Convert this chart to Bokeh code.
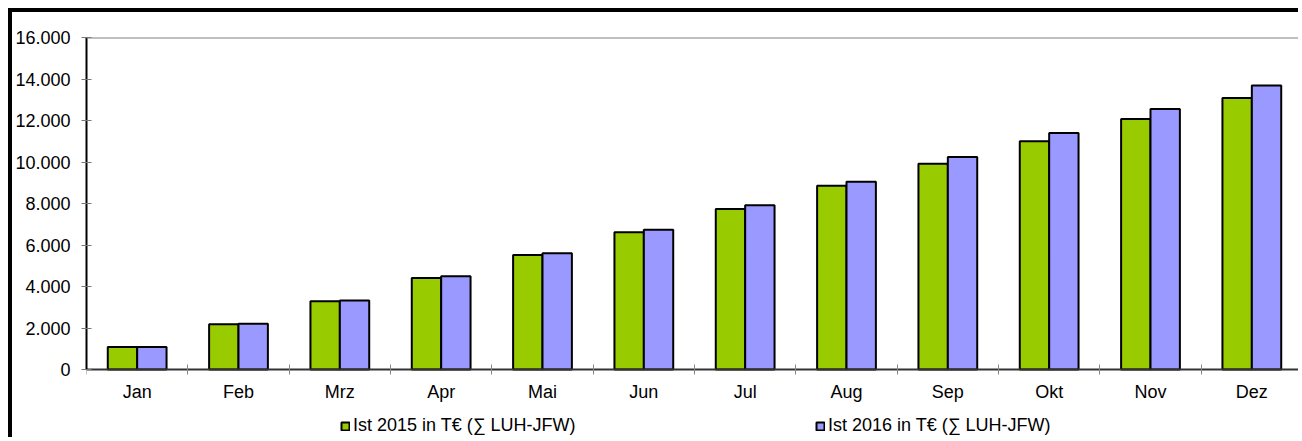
from bokeh.plotting import figure
from bokeh.models import (ColumnDataSource, Range1d, FixedTicker, Span, Legend, LegendItem)
from bokeh.embed import file_html
from bokeh.resources import INLINE

months = ["Jan", "Feb", "Mrz", "Apr", "Mai", "Jun", "Jul", "Aug", "Sep", "Okt", "Nov", "Dez"]
ist_2015 = [1090, 2180, 3290, 4410, 5520, 6620, 7740, 8850, 9910, 11000, 12070, 13080]
ist_2016 = [1090, 2200, 3330, 4490, 5600, 6740, 7910, 9050, 10240, 11400, 12550, 13690]
series_names = ["Ist 2015 in T\u20ac (\u2211 LUH-JFW)", "Ist 2016 in T\u20ac (\u2211 LUH-JFW)"]
y_ticks = [0, 2000, 4000, 6000, 8000, 10000, 12000, 14000, 16000]
y_tick_labels = ["0", "2.000", "4.000", "6.000", "8.000", "10.000", "12.000", "14.000", "16.000"]

FONT = "Liberation Sans"
GREEN = "#99CC00"
BLUE = "#9999FF"
BAR_W = 0.29

# layout (pixels): canvas 429 tall, plot top at 25, zero line 332 px lower
CANVAS_H = 429
TOP = 25
AXIS_PX = 332
y_max = y_ticks[-1]
frame_px = CANVAS_H - TOP
y_min = y_max - frame_px / AXIS_PX * y_max

n = len(months)
centers = [i + 0.5 for i in range(n)]
src = ColumnDataSource(dict(
    x15=[c - BAR_W / 2 for c in centers],
    x16=[c + BAR_W / 2 for c in centers],
    v15=ist_2015,
    v16=ist_2016,
))

p = figure(width=1290, height=CANVAS_H, output_backend="svg", toolbar_location=None,
           x_range=Range1d(0, n), y_range=Range1d(y_min, y_max),
           min_border_left=70, min_border_right=0, min_border_top=TOP, min_border_bottom=0)
p.styles = {"margin-left": "8px", "margin-top": "8px",
            "border-top": "4px solid black", "border-left": "4px solid black"}
p.outline_line_color = None
p.xgrid.grid_line_color = None
p.ygrid.grid_line_color = None
p.background_fill_color = "white"
p.border_fill_color = "white"

r15 = p.vbar(x="x15", top="v15", bottom=0, width=BAR_W, source=src, fill_color=GREEN,
             line_color="black", line_width=2)
r16 = p.vbar(x="x16", top="v16", bottom=0, width=BAR_W, source=src, fill_color=BLUE,
             line_color="black", line_width=2)

p.add_layout(Span(location=y_max, dimension="width", line_color="#808080", line_width=2))

# y axis
ya = p.yaxis[0]
ya.ticker = FixedTicker(ticks=y_ticks)
ya.bounds = (0, y_max)
ya.major_label_overrides = {t: l for t, l in zip(y_ticks, y_tick_labels)}
ya.major_label_text_font = FONT
ya.major_label_text_font_size = "18px"
ya.major_label_text_color = "black"
ya.axis_line_color = "black"
ya.axis_line_width = 2
ya.major_tick_in = 5
ya.major_tick_out = 5
ya.major_tick_line_color = "#777777"
ya.minor_tick_line_color = None
ya.major_label_standoff = 11

# x axis, drawn at value 0
xa = p.xaxis[0]
xa.fixed_location = 0
xa.ticker = FixedTicker(ticks=centers, minor_ticks=list(range(n + 1)))
xa.major_label_overrides = {c: m for c, m in zip(centers, months)}
xa.major_label_text_font = FONT
xa.major_label_text_font_size = "18px"
xa.major_label_text_color = "black"
xa.axis_line_color = "#333333"
xa.axis_line_width = 2
xa.major_tick_in = 0
xa.major_tick_out = 0
xa.minor_tick_in = 5
xa.minor_tick_out = 5
xa.minor_tick_line_color = "#888888"
xa.major_label_standoff = 7

legend = Legend(items=[LegendItem(label=series_names[0], renderers=[r15]),
                       LegendItem(label=series_names[1], renderers=[r16])],
                location=(254, 5), orientation="horizontal")
legend.padding = 0
legend.margin = 0
legend.spacing = 2
legend.border_line_color = None
legend.background_fill_alpha = 0
legend.glyph_width = 10
legend.glyph_height = 10
legend.label_standoff = 3
legend.label_width = 460
legend.label_text_font = FONT
legend.label_text_font_size = "18px"
legend.label_text_color = "black"
legend.label_height = 20
p.add_layout(legend)

open("out.html", "w").write(file_html(p, INLINE))
